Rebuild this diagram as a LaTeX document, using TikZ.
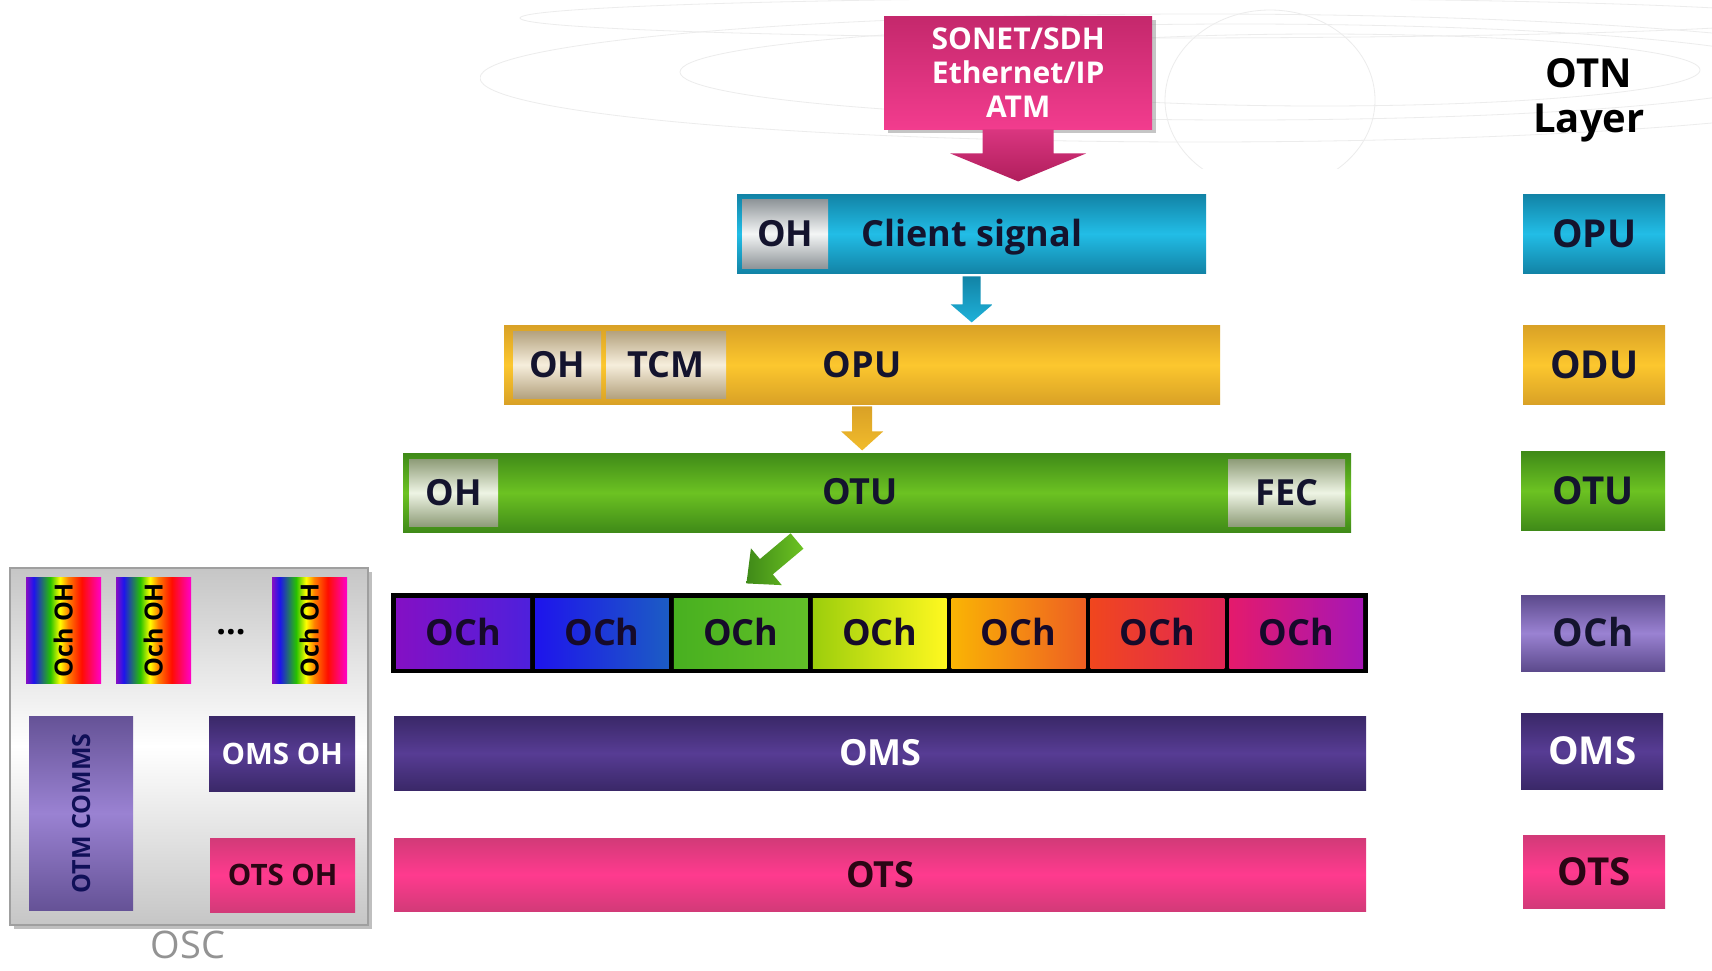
\documentclass[tikz,border=0pt]{standalone}
\usepackage{fontspec}
\setmainfont{Open Sans}
\usetikzlibrary{calc,shadows}

\definecolor{cyD}{HTML}{1283A6}
\definecolor{cyL}{HTML}{22BDE6}
\definecolor{yeD}{HTML}{D9A126}
\definecolor{yeL}{HTML}{FCC72E}
\definecolor{grD}{HTML}{3F8A18}
\definecolor{grL}{HTML}{6CC222}
\definecolor{puD}{HTML}{3A2868}
\definecolor{puL}{HTML}{573C94}
\definecolor{pkD}{HTML}{D23A78}
\definecolor{pkL}{HTML}{FF3A8E}
\definecolor{laD}{HTML}{5C4A8C}
\definecolor{laL}{HTML}{9A82D2}
\definecolor{srcT}{HTML}{C4286C}
\definecolor{srcB}{HTML}{F23C8E}
\definecolor{srcA}{HTML}{B01E5C}
\definecolor{ink}{HTML}{14142E}
\definecolor{chink}{HTML}{160A2A}
\definecolor{pkink}{HTML}{2A0614}
\definecolor{ohD}{HTML}{8E9498}
\definecolor{ohL}{HTML}{F4F6F6}
\definecolor{tcmD}{HTML}{B4A27E}
\definecolor{tcmL}{HTML}{F6EEDC}
\definecolor{fecD}{HTML}{8E9C78}
\definecolor{fecL}{HTML}{EEF4E4}
\definecolor{swirl}{HTML}{ECECEC}
% channel colours, left and right ends of each gradient
\definecolor{c0l}{HTML}{8410C4}\definecolor{c0r}{HTML}{4E20DC}
\definecolor{c1l}{HTML}{1E14EC}\definecolor{c1r}{HTML}{1C5CC4}
\definecolor{c2l}{HTML}{48B020}\definecolor{c2r}{HTML}{62C028}
\definecolor{c3l}{HTML}{9CCE0C}\definecolor{c3r}{HTML}{FFF820}
\definecolor{c4l}{HTML}{FAB404}\definecolor{c4r}{HTML}{EE5E22}
\definecolor{c5l}{HTML}{F0461E}\definecolor{c5r}{HTML}{E22656}
\definecolor{c6l}{HTML}{E41A6C}\definecolor{c6r}{HTML}{A616B6}

% rainbow used by the per-channel overhead blocks (bottom stop = left side after rotation)
\pgfdeclareverticalshading{rainbowsh}{100bp}{%
  color(0bp)=(c0l); color(25bp)=(c0l);
  color(30bp)=(c1l); color(41bp)=(green!70!black!80!lime);
  color(47.5bp)=(yellow); color(53bp)=(orange); color(62bp)=(red!90!orange);
  color(75bp)=(magenta!80!red); color(100bp)=(magenta!80!red)}

\tikzset{
  box/.style={rectangle, inner sep=0pt, anchor=north west, draw=none},
  dims/.style 2 args={minimum width=#1pt, minimum height=#2pt},
  vgrad/.style 2 args={top color=#1, bottom color=#1, middle color=#2},
  lbl/.style={inner sep=0pt, text height=25.5pt, text depth=0pt,
    font=\fontsize{36}{40}\selectfont\bfseries, text=ink},
  sidelbl/.style={lbl, text height=27.5pt, font=\fontsize{38.5}{42}\selectfont\bfseries},
  small/.style={lbl, text height=21pt, font=\fontsize{29.5}{32}\selectfont\bfseries},
  vsmall/.style={lbl, text height=18pt, font=\fontsize{25}{28}\selectfont\bfseries},
  swirlline/.style={draw=swirl, line width=0.8pt},
}

\begin{document}
\begin{tikzpicture}[x=1pt,y=-1pt]
\useasboundingbox[fill=white] (0,0) rectangle (1712,970);

% faint decorative swirls along the top
\begin{scope}
  \clip (480,0) rectangle (1712,168);
  \draw[swirlline] (1200,78) ellipse [x radius=720, y radius=64];
  \draw[swirlline] (1240,72) ellipse [x radius=560, y radius=48];
  \draw[swirlline] (1320,70) ellipse [x radius=380, y radius=36];
  \draw[swirlline] (1160,18) ellipse [x radius=640, y radius=20];
  \draw[swirlline] (1270,100) ellipse [x radius=105, y radius=90];
\end{scope}

% client signal sources
\node[box, dims={268}{113}, top color=srcT, bottom color=srcB,
  drop shadow={shadow xshift=4pt, shadow yshift=-4pt, opacity=0.45, fill=gray},
  text=white, align=center, font=\fontsize{30}{34}\selectfont\bfseries]
  (src) at (884,16) {SONET/SDH\\Ethernet/IP\\ATM};
\path[top color=srcB!90!black, bottom color=srcA]
  let \p1=(src.south) in
  (\x1-35.5pt,\y1) -- (\x1+35.5pt,\y1) -- (\x1+35.5pt,\y1-24pt) -- (\x1+68pt,\y1-24pt)
  -- (\x1,\y1-52pt) -- (\x1-68pt,\y1-24pt) -- (\x1-35.5pt,\y1-24pt) -- cycle;

% OPU: overhead + client signal
\node[box, dims={469}{79}, vgrad={cyD}{cyL}] (cli) at (737,194) {};
\node[box, dims={86}{69}, vgrad={ohD}{ohL}] (clioh) at (742,199) {};
\node[lbl] (clioht) at (clioh.center) {OH};
\node[lbl] (clitxt) at (972,234) {Client signal};

\path[top color=cyD, bottom color=cyL!80!cyD]
  let \p1=($(cli.south)+(0,3)$) in
  (\x1-9pt,\y1) -- (\x1+9pt,\y1) -- (\x1+9pt,\y1-28pt) -- (\x1+21pt,\y1-28pt)
  -- (\x1,\y1-46pt) -- (\x1-21pt,\y1-28pt) -- (\x1-9pt,\y1-28pt) -- cycle;

% ODU: overhead, tandem connection monitoring, payload
\node[box, dims={716}{79}, vgrad={yeD}{yeL}] (odu) at (504,325) {};
\node[box, dims={88}{67}, vgrad={tcmD}{tcmL}] (oduoh) at (513,331) {};
\node[box, dims={120}{67}, vgrad={tcmD}{tcmL}] (odutcm) at (606,331) {};
\node[lbl] (oduoht) at (oduoh.center) {OH};
\node[lbl] (odutcmt) at (odutcm.center) {TCM};
\node[lbl] (oduopu) at (862,365) {OPU};

\path[top color=yeD, bottom color=yeL!70!yeD]
  let \p1=($(odu.south)+(0,2)$) in
  (\x1-10pt,\y1) -- (\x1+10pt,\y1) -- (\x1+10pt,\y1-25pt) -- (\x1+21pt,\y1-25pt)
  -- (\x1,\y1-44pt) -- (\x1-21pt,\y1-25pt) -- (\x1-10pt,\y1-25pt) -- cycle;

% OTU: overhead, payload, forward error correction
\node[box, dims={948}{79}, vgrad={grD}{grL}] (otu) at (403,453) {};
\node[box, dims={89}{67}, vgrad={fecD}{fecL}] (otuoh) at (409,459) {};
\node[box, dims={117}{67}, vgrad={fecD}{fecL}] (otufec) at (1228,459) {};
\node[lbl] (otuoht) at (otuoh.center) {OH};
\node[lbl] (otufect) at (otufec.center) {FEC};
\node[lbl] (otutxt) at (860,492) {OTU};

\coordinate (gtail) at (797,541);
\begin{scope}[shift={(gtail)}, rotate=220]
  \path[left color=grD, right color=grL]
    (0,-10) -- (40,-10) -- (40,-24) -- (66,0) -- (40,24) -- (40,10) -- (0,10) -- cycle;
\end{scope}

% seven optical channels
\node[box, dims={977}{80}, fill=black] (ochbar) at (391,593) {};
\foreach \i in {0,...,6} {
  \node[box, dims={133.86}{70}, left color=c\i l, right color=c\i r]
    (och\i) at ({396+\i*138.86},598) {};
  \node[lbl, text=chink] (ocht\i) at (och\i.center) {OCh};
}

% multiplex and transmission sections
\node[box, dims={972}{74}, vgrad={puD}{puL}] (oms) at (394,716) {};
\node[lbl, text=white] (omst) at (oms.center) {OMS};
\node[box, dims={972}{73}, vgrad={pkD}{pkL}] (ots) at (394,838) {};
\node[lbl, text=pkink] (otst) at (ots.center) {OTS};

% layer column
\node[font=\fontsize{40}{45}\selectfont\bfseries, align=center, text=black, inner sep=0pt]
  (layhead) at (1589,100) {OTN\\Layer};
\node[box, dims={142}{79}, vgrad={cyD}{cyL}] (lopu) at (1523,194) {};
\node[sidelbl] (lopt) at (lopu.center) {OPU};
\node[box, dims={142}{79}, vgrad={yeD}{yeL}] (lodu) at (1523,325) {};
\node[sidelbl] (lodt) at (lodu.center) {ODU};
\node[box, dims={144}{79}, vgrad={grD}{grL}] (lotu) at (1521,451) {};
\node[sidelbl] (lott) at (lotu.center) {OTU};
\node[box, dims={144}{76}, vgrad={laD}{laL}] (loch) at (1521,595) {};
\node[sidelbl] (loct) at (loch.center) {OCh};
\node[box, dims={142}{76}, vgrad={puD}{puL}] (loms) at (1521,713) {};
\node[sidelbl, text=white] (lomt) at (loms.center) {OMS};
\node[box, dims={142}{73}, vgrad={pkD}{pkL}] (lots) at (1523,835) {};
\node[sidelbl, text=pkink] (lott2) at (lots.center) {OTS};

% optical supervisory channel
\node[box, dims={358}{357}, draw=gray!75, line width=1.5pt,
  top color=gray!45, bottom color=gray!45, middle color=white,
  drop shadow={shadow xshift=4pt, shadow yshift=-4pt, opacity=0.5, fill=gray}]
  (osc) at (9,567) {};
\foreach \n/\x in {1/26, 2/116, 3/272} {
  \node[box, dims={75}{106}, shading=rainbowsh, shading angle=-90] (ochoh\n) at (\x,577) {};
  \node[vsmall, rotate=90, text=black] (ochoht\n) at (ochoh\n.center) {Och OH};
}
\node[font=\fontsize{34}{36}\selectfont\bfseries, inner sep=0pt] (dots) at (231,632) {...};
\node[box, dims={104}{194}, vgrad={laD!85!laL}{laL}] (otm) at (29,716) {};
\node[vsmall, rotate=90, text=ink!80!blue] (otmt) at (otm.center) {OTM COMMS};
\node[box, dims={146}{75}, vgrad={puD}{puL}] (omsoh) at (209,716) {};
\node[small, text=white] (omsoht) at (omsoh.center) {OMS OH};
\node[box, dims={145}{74}, vgrad={pkD}{pkL}] (otsoh) at (210,838) {};
\node[small, text=pkink] (otsoht) at (otsoh.center) {OTS OH};
\node[font=\fontsize{38}{42}\selectfont, text=gray!85, inner sep=0pt,
  text height=27pt, text depth=0pt] (osct) at (188,945) {OSC};

\end{tikzpicture}
\end{document}
